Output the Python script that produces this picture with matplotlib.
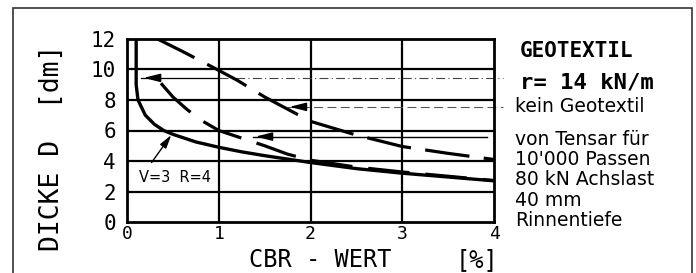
import numpy as np
import matplotlib
matplotlib.use('Agg')
import matplotlib.pyplot as plt
from matplotlib.patches import Rectangle

# data (x = CBR-Wert [%], y = Dicke D [dm])
x_geo = [0.1, 0.1, 0.12, 0.2, 0.3, 0.4, 0.5, 0.75, 1.0, 1.25, 1.5, 2.0, 2.5, 3.0, 3.5, 4.0]
y_geo = [12.0, 9.0, 8.0, 7.0, 6.4, 6.0, 5.75, 5.25, 4.9, 4.6, 4.35, 3.9, 3.5, 3.2, 2.95, 2.7]

x_kein = [0.3, 0.6, 0.95, 1.2, 1.5, 1.75, 2.0, 2.5, 3.0, 3.5, 4.0]
y_kein = [12.1, 11.2, 10.1, 9.3, 8.2, 7.4, 6.6, 5.7, 4.95, 4.5, 4.1]

x_tensar = [0.37, 0.5, 0.65, 0.8, 1.0, 1.25, 1.5, 1.75, 2.0, 2.5, 3.0, 3.5, 4.0]
y_tensar = [9.1, 8.2, 7.4, 6.7, 6.0, 5.5, 5.0, 4.45, 4.05, 3.6, 3.28, 3.0, 2.72]

xticks = [0, 1, 2, 3, 4]
yticks = [0, 2, 4, 6, 8, 10, 12]

# arrows: (y level, arrow tip x, line end x)
arrow_geo = (9.45, 0.15, 4.1)
arrow_kein = (7.55, 1.74, 4.1)
arrow_tensar = (5.6, 1.37, 3.92)

legend_lines = ['von Tensar für', "10'000 Passen", '80 kN Achslast', '40 mm', 'Rinnentiefe']

W, H = 696, 273
mono = 'DejaVu Sans Mono'

def fx(x):
    return x / W

def fy(y):
    return 1 - y / H

fig = plt.figure(figsize=(W / 100, H / 100), dpi=100)
fig.patch.set_facecolor('white')

# outer frame
fig.patches.append(Rectangle((fx(13), -0.1), fx(692) - fx(13), fy(8) + 0.1,
                             transform=fig.transFigure, fill=False,
                             edgecolor='#333333', lw=1.2))

ax = fig.add_axes([fx(127), fy(222), fx(494) - fx(127), fy(39) - fy(222)])
ax.set_xlim(0, 4)
ax.set_ylim(0, 12)

for v in [1, 2, 3]:
    ax.axvline(v, color='black', lw=1.6, zorder=1)
for v in [2, 4, 6, 8, 10]:
    ax.axhline(v, color='black', lw=1.6, zorder=1)
for s in ax.spines.values():
    s.set_linewidth(2.0)

ax.set_xticks(xticks)
ax.set_xticklabels([str(t) for t in xticks], fontfamily=mono, fontsize=13)
ax.set_yticks(yticks)
ax.set_yticklabels([str(t) for t in yticks], fontfamily=mono, fontsize=15)
ax.tick_params(axis='both', length=0)
ax.tick_params(axis='x', pad=2)
ax.tick_params(axis='y', pad=8)

# curves
ax.plot(x_geo, y_geo, color='black', lw=2.4, solid_capstyle='round', zorder=3)
ax.plot(x_kein, y_kein, color='black', lw=2.3, dashes=(14, 4.5), zorder=3)
ax.plot(x_tensar, y_tensar, color='black', lw=2.3, dashes=(13, 5), zorder=3)

# pointer lines from the labels
head = '-|>,head_length=1.0,head_width=0.25'
yl, tip, end = arrow_geo
ax.plot([tip, 1.0], [yl, yl], color='black', lw=0.9, clip_on=False)
ax.plot([1.0, end], [yl, yl], color='#444444', lw=0.8, dashes=(8, 3, 1, 3), clip_on=False)
ax.annotate('', xy=(tip, yl), xytext=(tip + 0.22, yl),
            arrowprops=dict(arrowstyle=head, color='black', lw=1.1))

yl, tip, end = arrow_kein
ax.plot([tip, end], [yl, yl], color='#555555', lw=0.8, dashes=(8, 4), clip_on=False)
ax.annotate('', xy=(tip, yl), xytext=(tip + 0.22, yl),
            arrowprops=dict(arrowstyle=head, color='black', lw=1.1))

yl, tip, end = arrow_tensar
ax.plot([tip, end], [yl, yl], color='black', lw=1.0)
ax.annotate('', xy=(tip, yl), xytext=(tip + 0.22, yl),
            arrowprops=dict(arrowstyle=head, color='black', lw=1.1))

# V=3 R=4 note
ax.annotate('', xy=(0.5, 5.85), xytext=(0.25, 3.75),
            arrowprops=dict(arrowstyle='-|>,head_length=0.8,head_width=0.22', color='black', lw=1.0))
ax.text(0.52, 2.95, 'V=3  R=4', fontsize=10.5, ha='center', va='center')

# axis titles
fig.text(fx(52), fy(148), 'DICKE D  [dm]', rotation=90, ha='center', va='center',
         fontfamily=mono, fontsize=19)
fig.text(fx(320), fy(267), 'CBR - WERT', ha='center', va='baseline', fontfamily=mono, fontsize=17)
fig.text(fx(477), fy(267), '[%]', ha='center', va='baseline', fontfamily=mono, fontsize=17)

# right side labels
fig.text(fx(520), fy(57), 'GEOTEXTIL', fontfamily=mono, fontweight='bold', fontsize=15, va='baseline')
fig.text(fx(520), fy(88), 'r= 14 kN/m', fontfamily=mono, fontweight='bold', fontsize=16, va='baseline')
fig.text(fx(515), fy(112), 'kein Geotextil', fontsize=13.5, va='baseline')
for i, line in enumerate(legend_lines):
    fig.text(fx(515), fy(145 + i * 20.2), line, fontsize=13.5, va='baseline')

fig.savefig('out.png', dpi=100)
